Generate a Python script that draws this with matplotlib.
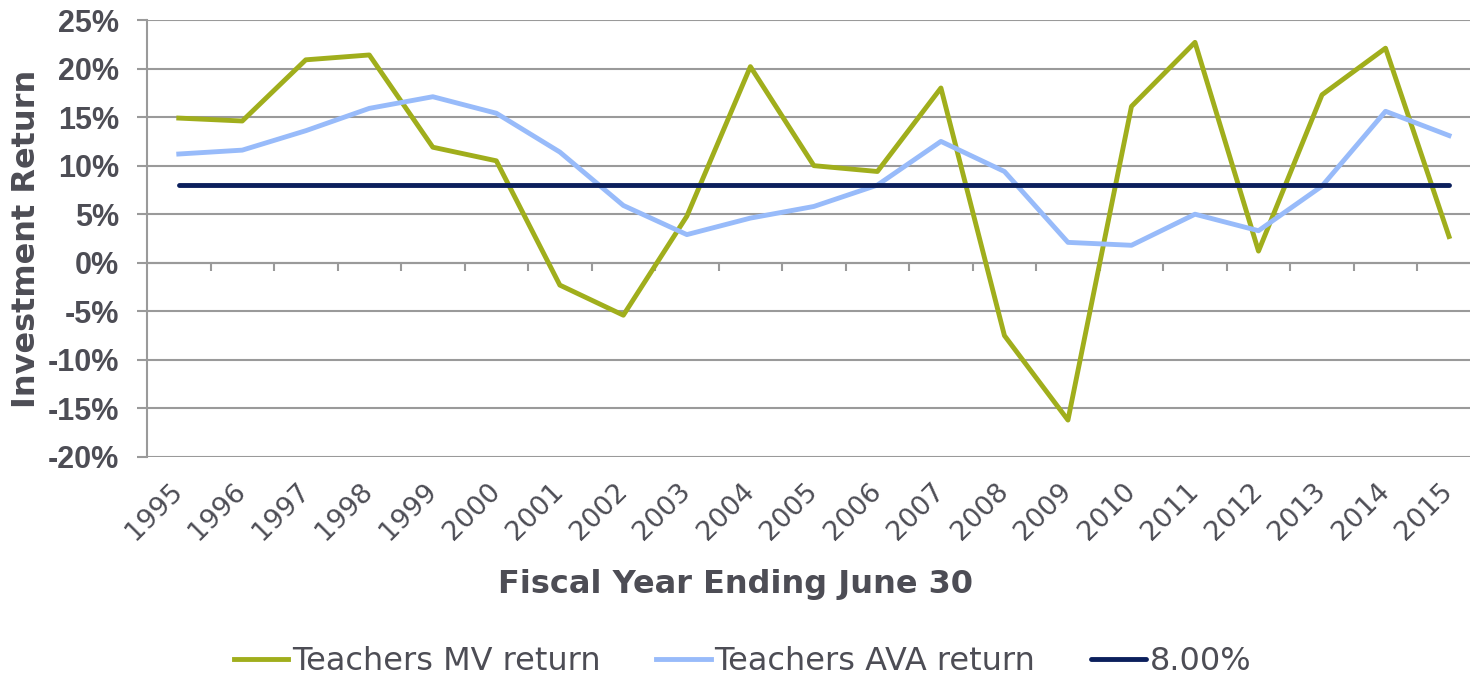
import matplotlib
matplotlib.use('Agg')
from matplotlib import pyplot as plt
from matplotlib.ticker import FixedLocator

years = [str(y) for y in range(1995, 2016)]
mv_return = [14.9, 14.6, 20.9, 21.4, 11.9, 10.5, -2.3, -5.4, 4.8, 20.2, 10.0,
             9.4, 18.0, -7.5, -16.2, 16.1, 22.7, 1.2, 17.3, 22.1, 2.7]
ava_return = [11.2, 11.6, 13.6, 15.9, 17.1, 15.4, 11.4, 5.9, 2.9, 4.6, 5.8,
              8.0, 12.5, 9.4, 2.1, 1.8, 5.0, 3.3, 7.9, 15.6, 13.1]
assumed = [8.0] * len(years)
yticks = [-20, -15, -10, -5, 0, 5, 10, 15, 20, 25]

text_col = '#4d4d55'
grid_col = '#9a9a9a'

fig = plt.figure(figsize=(14.7, 6.76), dpi=100)
ax = fig.add_axes([0.1, 0.324, 0.9, 0.6464])

x = range(len(years))
ax.plot(x, mv_return, color='#a0ae1c', lw=3.5, label='Teachers MV return')
ax.plot(x, ava_return, color='#98bbfa', lw=3.5, label='Teachers AVA return')
ax.plot(x, assumed, color='#0b1f5c', lw=3.5, label='8.00%', solid_capstyle='round')

ax.set_xlim(-0.5, 20.33)
ax.set_ylim(-20, 25)
ax.set_yticks(yticks)
ax.set_yticklabels([f'{v}%' for v in yticks], fontfamily='Liberation Sans',
                   fontweight='bold', fontsize=22, color=text_col)
ax.yaxis.grid(True, color=grid_col, lw=1.5)
ax.set_axisbelow(True)
ax.tick_params(axis='y', length=7, width=1.5, color=grid_col, pad=13)

ax.set_xticks(list(x))
ax.set_xticklabels(years, rotation=45, ha='right', va='center', rotation_mode='anchor',
                   fontsize=19.5, color=text_col)
ax.tick_params(axis='x', length=0, pad=22)

for s in ['top', 'right', 'bottom']:
    ax.spines[s].set_visible(False)
ax.spines['left'].set_color(grid_col)
ax.spines['left'].set_linewidth(1.5)

# zero line with category boundary ticks
sec = ax.secondary_xaxis(20 / 45)
sec.spines['bottom'].set_color(grid_col)
sec.spines['bottom'].set_linewidth(1.5)
sec.xaxis.set_major_locator(FixedLocator([i + 0.5 for i in range(len(years) - 1)]))
sec.tick_params(axis='x', length=6, width=1.5, color=grid_col, labelbottom=False, direction='out')

ax.set_ylabel('Investment Return', fontsize=23, fontweight='bold', color=text_col)
ax.yaxis.set_label_coords(-0.0795, 0.5)
fig.text(0.5, 1 - 585 / 676, 'Fiscal Year Ending June 30', ha='center', va='center',
         fontsize=23, fontweight='bold', color=text_col)

leg = fig.legend(loc='center', bbox_to_anchor=(0.505, 1 - 662 / 676), ncol=3, frameon=False,
                 fontsize=23, handlelength=1.7, handletextpad=0.12, columnspacing=1.75)
for t in leg.get_texts():
    t.set_color(text_col)

fig.savefig('out.png', dpi=100)
